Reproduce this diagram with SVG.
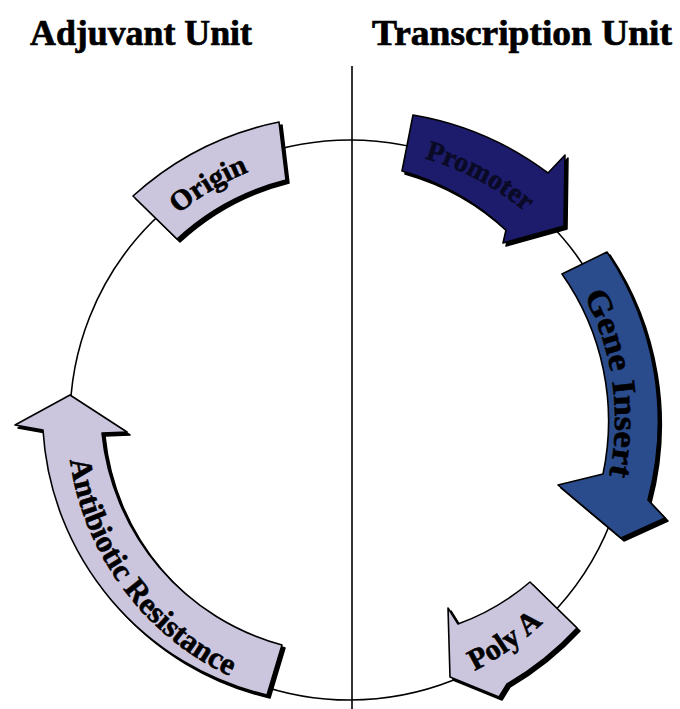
<svg xmlns="http://www.w3.org/2000/svg" xmlns:xlink="http://www.w3.org/1999/xlink" width="680" height="709" viewBox="0 0 680 709">
<style>
.title{font-family:"Liberation Serif","Times New Roman",serif;font-weight:bold;font-size:35px;fill:#000;stroke:#000;stroke-width:0.7}
.lbl{font-family:"Liberation Serif","Times New Roman",serif;font-weight:bold;fill:#000;stroke:#000;stroke-width:0.6}
.dark{fill:#0a0a26;stroke:#0a0a26}
.shadow{fill:#000;stroke:#000;stroke-width:1.5;stroke-linejoin:round}
.shape{stroke:#000;stroke-width:1.6;stroke-linejoin:round}
.light{fill:#cbc6de}
.navy{fill:#1d1c6c}
.blue{fill:#2b4c8c}
.line{fill:none;stroke:#000;stroke-width:1.6}
</style>
<defs>
<path id="tpOrigin" d="M105.2,311 A268,268 0 0 1 368.7,152.6"/>
<path id="tpPromoter" d="M350,148 A272,272 0 0 1 575.5,267.9"/>
<path id="tpGene" d="M558.8,256.8 A265,265 0 0 1 595.7,519.3"/>
<path id="tpPoly" d="M398.6,695.7 A280,280 0 0 0 592.5,560"/>
<path id="tpAnti" d="M67,420 A283,283 0 0 0 267.3,690.6"/>
</defs>
<rect width="680" height="709" fill="#fff"/>
<g id="connectors">
<circle class="line" cx="350" cy="420" r="280"/>
<line class="line" x1="352" y1="66" x2="352" y2="709"/>
</g>
<g id="titles">
<text class="title" x="30" y="45" textLength="222" lengthAdjust="spacingAndGlyphs">Adjuvant Unit</text>
<text class="title" x="372" y="45" textLength="300" lengthAdjust="spacingAndGlyphs">Transcription Unit</text>
</g>
<g id="origin">
<path class="shadow" transform="translate(3,3)" d="M133,196 A308,308 0 0 1 279,122 L286,180 A250,250 0 0 0 177,239 Z"/>
<path class="shape light" d="M133,196 A308,308 0 0 1 279,122 L286,180 A250,250 0 0 0 177,239 Z"/>
<text class="lbl" font-size="29"><textPath xlink:href="#tpOrigin" href="#tpOrigin" startOffset="50%" text-anchor="middle">Origin</textPath></text>
</g>
<g id="promoter">
<path class="shadow" transform="translate(3,3)" d="M413,115 A311,311 0 0 1 548,173 L565,155 L564,226 L503,243 L506,230 A250,250 0 0 0 402,171 Z"/>
<path class="shape navy" d="M413,115 A311,311 0 0 1 548,173 L565,155 L564,226 L503,243 L506,230 A250,250 0 0 0 402,171 Z"/>
<text class="lbl dark" font-size="28"><textPath xlink:href="#tpPromoter" href="#tpPromoter" startOffset="50%" text-anchor="middle">Promoter</textPath></text>
</g>
<g id="gene-insert">
<path class="shadow" transform="translate(3,3)" d="M562,274 L607,252 A305,305 0 0 1 648,500 L665,518 L621,538 L558,485 L603,474 A255,255 0 0 0 562,274 Z"/>
<path class="shape blue" d="M562,274 L607,252 A305,305 0 0 1 648,500 L665,518 L621,538 L558,485 L603,474 A255,255 0 0 0 562,274 Z"/>
<text class="lbl" font-size="33"><textPath xlink:href="#tpGene" href="#tpGene" startOffset="50%" text-anchor="middle" textLength="186" lengthAdjust="spacingAndGlyphs">Gene Insert</textPath></text>
</g>
<g id="poly-a">
<path class="shadow" transform="translate(3,3)" d="M530,582 L577,628 A305,305 0 0 1 507,684 L499,697 L450,677 L448,608 L458,624 A232,232 0 0 0 530,582 Z"/>
<path class="shape light" d="M530,582 L577,628 A305,305 0 0 1 507,684 L499,697 L450,677 L448,608 L458,624 A232,232 0 0 0 530,582 Z"/>
<text class="lbl" font-size="30"><textPath xlink:href="#tpPoly" href="#tpPoly" startOffset="50%" text-anchor="middle">Poly A</textPath></text>
</g>
<g id="antibiotic-resistance">
<path class="shadow" transform="translate(3,3)" d="M282,645 L267,695 A290,290 0 0 1 43,430 L15,425 L70,395 L127,432 L102,433 A245,245 0 0 0 282,645 Z"/>
<path class="shape light" d="M282,645 L267,695 A290,290 0 0 1 43,430 L15,425 L70,395 L127,432 L102,433 A245,245 0 0 0 282,645 Z"/>
<text class="lbl" font-size="31"><textPath xlink:href="#tpAnti" href="#tpAnti" startOffset="50%" text-anchor="middle">Antibiotic Resistance</textPath></text>
</g>
</svg>
